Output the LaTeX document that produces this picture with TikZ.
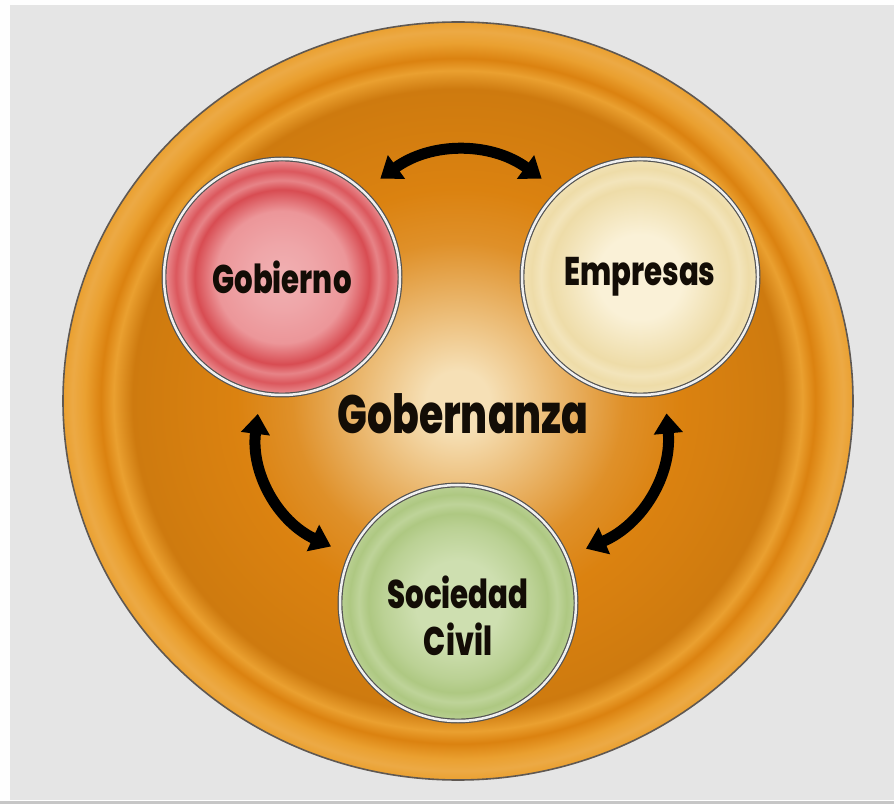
\documentclass[tikz,border=0pt]{standalone}
\usepackage{fontspec}
\usepackage{tikz}
\usepackage{xcolor}
\usetikzlibrary{arrows.meta}

\newfontfamily\condbold{Poppins}[FakeStretch=0.73, BoldFont={* ExtraBold}]

\definecolor{paper}{RGB}{229,229,229}
\definecolor{plateorange}{RGB}{219,130,16}
\definecolor{platelight}{RGB}{246,224,182}
\definecolor{plateband}{RGB}{234,160,48}
\definecolor{platerim}{RGB}{95,88,82}
\definecolor{gobred}{RGB}{216,76,82}
\definecolor{gobpink}{RGB}{236,150,153}
\definecolor{empcream}{RGB}{238,220,168}
\definecolor{emplight}{RGB}{250,241,215}
\definecolor{socgreen}{RGB}{174,200,130}
\definecolor{soclight}{RGB}{206,223,176}

% plate and discs: edge of the shape sits at 25bp
\pgfdeclareradialshading{plateshade}{\pgfpoint{0bp}{0bp}}{%
  color(0bp)=(platelight); color(2bp)=(platelight);
  color(6.5bp)=(plateorange!45!platelight); color(10.5bp)=(plateorange!85!platelight);
  color(14bp)=(plateorange); color(20.6bp)=(plateorange!94!black);
  color(21.8bp)=(plateband); color(22.6bp)=(plateorange);
  color(23.6bp)=(plateband); color(24.4bp)=(plateband!90!white);
  color(25bp)=(plateband); color(50bp)=(plateband)}
\pgfdeclareradialshading{gobshade}{\pgfpoint{0bp}{0bp}}{%
  color(0bp)=(gobpink!75!white); color(7bp)=(gobpink!85!white);
  color(14bp)=(gobpink); color(18.5bp)=(gobred);
  color(20.5bp)=(gobpink!75!gobred); color(22.5bp)=(gobred!85!gobpink);
  color(24.2bp)=(gobpink!70!gobred); color(25bp)=(gobpink); color(50bp)=(gobpink)}
\pgfdeclareradialshading{empshade}{\pgfpoint{0bp}{0bp}}{%
  color(0bp)=(emplight); color(9bp)=(emplight);
  color(16bp)=(empcream!70!emplight); color(19bp)=(empcream);
  color(21bp)=(empcream!60!emplight); color(23bp)=(empcream);
  color(25bp)=(empcream!70!emplight); color(50bp)=(empcream!70!emplight)}
\pgfdeclareradialshading{socshade}{\pgfpoint{0bp}{0bp}}{%
  color(0bp)=(soclight); color(9bp)=(soclight);
  color(16bp)=(socgreen!60!soclight); color(19bp)=(socgreen);
  color(21bp)=(socgreen!50!soclight); color(23bp)=(socgreen);
  color(25bp)=(socgreen!60!soclight); color(50bp)=(socgreen!60!soclight)}

\tikzset{
  disc/.style={circle, minimum size=236pt, inner sep=0pt, outer sep=21pt,
    draw=gray!65!black, line width=1.2pt, double=white!88!gray,
    double distance=2.5pt, align=center, text=black!90!brown,
    font=\condbold\bfseries\fontsize{40}{47}\selectfont},
  disctext/.style={align=center, text=black!90!brown,
    font=\condbold\bfseries\fontsize{40}{47}\selectfont}
}

\begin{document}
\begin{tikzpicture}[x=1pt, y=1pt]
    \useasboundingbox (0,0) rectangle (894,804);
    \fill[white!96!paper] (0,0) rectangle (894,804);
    \fill[paper] (10,4) rectangle (894,799);
    \fill[gray!45] (0,0) rectangle (894,3);

    % the plate
    \draw[shading=plateshade, draw=platerim, line width=1.6pt]
        (458,403) ellipse (395 and 379);
    \node[disctext, font=\condbold\bfseries\fontsize{54}{60}\selectfont]
        (gov) at (463,390) {Gobernanza};

    \begin{scope}[every node/.style=disc]
        \node[shading=gobshade] (gob) at (282,527) {Gobierno};
        \node[shading=empshade] (emp) at (640,527) {Empresas};
        \node[shading=socshade] (soc) at (458,201) {};
    \end{scope}
    \node[disctext] (soctext) at (458,188) {Sociedad\\Civil};

    \begin{scope}[>={Triangle[width=28pt,length=20pt]},
                    every edge/.style={draw=black, line width=11pt}]
        \path [<->] (gob.45)  edge[bend left=36]  (emp.135);
        \path [<->] (gob.260) edge[bend right=36] (soc.156);
        \path [<->] (soc.23)  edge[bend right=36] (emp.281);
    \end{scope}
\end{tikzpicture}
\end{document}
